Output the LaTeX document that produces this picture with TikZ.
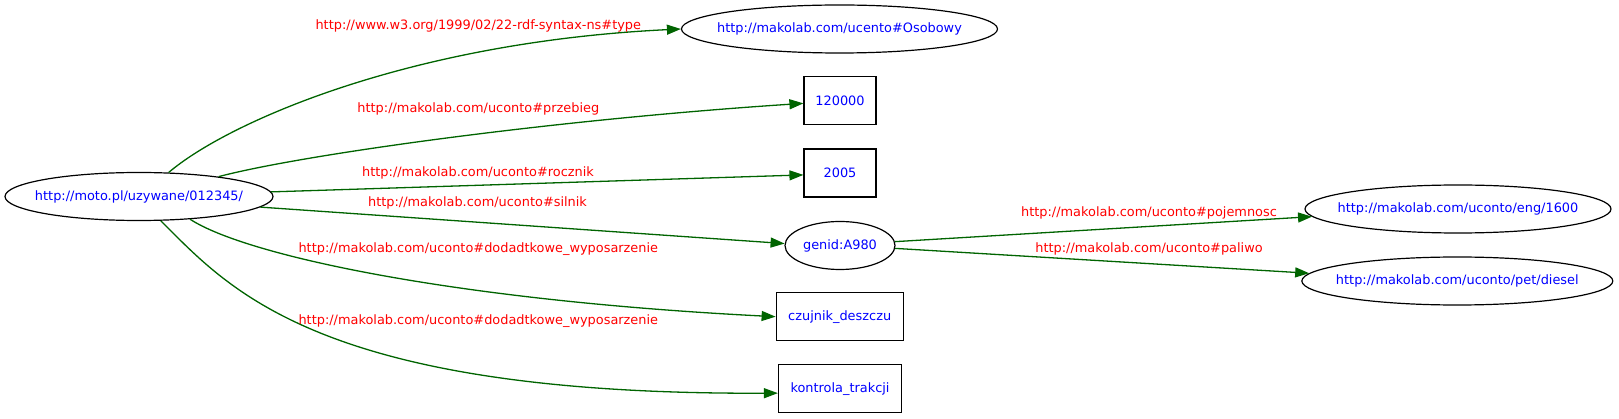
\documentclass[tikz,border=0pt]{standalone}
\usepackage{fontspec}
\setmainfont{DejaVu Sans}
\usetikzlibrary{shapes.geometric,arrows.meta}
\definecolor{edgegreen}{HTML}{006400}
\newcommand{\gvfont}{\fontsize{12.9pt}{15pt}\selectfont}

\begin{document}
\begin{tikzpicture}[x=1pt,y=-1pt,
    res/.style={draw,ellipse,line width=1.2pt,inner xsep=-30pt,inner ysep=0pt,minimum height=48pt,text=blue,font=\gvfont},
    lit/.style={draw,rectangle,line width=1.2pt,inner sep=0pt,minimum height=48pt,text=blue,font=\gvfont},
    rel/.style={draw=edgegreen,line width=1.3pt,-{Triangle[length=14pt,width=10pt]}},
    lbl/.style={text=red,font=\gvfont}]
        \useasboundingbox (0,0) rectangle (1619,419);
        % subject
        \node[res,minimum width=268pt] (auto) at (139,196.5) {http://moto.pl/uzywane/012345/};
        % objects
        \node[res,minimum width=316pt] (osobowy) at (839.5,29) {http://makolab.com/ucento\#Osobowy};
        \node[lit,minimum width=72pt] (przebieg) at (840,100.8) {120000};
        \node[lit,minimum width=72pt] (rocznik) at (840,173) {2005};
        \node[res,minimum width=110pt] (silnik) at (840,245.5) {genid:A980};
        \node[lit,minimum width=127pt] (czujnik) at (839.7,316.7) {czujnik\_deszczu};
        \node[lit,minimum width=123pt] (kontrola) at (840,388.8) {kontrola\_trakcji};
        \node[res,minimum width=306pt] (pojemnosc) at (1458,209) {http://makolab.com/uconto/eng/1600};
        \node[res,minimum width=311pt] (paliwo) at (1457.3,281) {http://makolab.com/uconto/pet/diesel};
        % predicates
        \draw[rel] (auto.39) .. controls (228,122) and (410,42) .. (osobowy.west);
        \draw[rel] (auto.14) .. controls (300,155) and (550,120) .. (przebieg.184);
        \draw[rel] (auto.2) -- (rocznik.183);
        \draw[rel] (auto.-5) -- (silnik.178);
        \draw[rel] (auto.-24) .. controls (245,255) and (450,300) .. (czujnik.west);
        \draw[rel] (auto.-48) .. controls (230,290) and (320,395) .. (kontrola.184);
        \draw[rel] (silnik.4) -- (pojemnosc.183);
        \draw[rel] (silnik.-3) -- (paliwo.177);
        % predicate labels
        \node[lbl] (l-type) at (478.3,25.5) {http://www.w3.org/1999/02/22-rdf-syntax-ns\#type};
        \node[lbl] (l-przebieg) at (478.3,108.8) {http://makolab.com/uconto\#przebieg};
        \node[lbl] (l-rocznik) at (478,172.5) {http://makolab.com/uconto\#rocznik};
        \node[lbl] (l-silnik) at (477.5,203.2) {http://makolab.com/uconto\#silnik};
        \node[lbl] (l-czujnik) at (478.3,248.8) {http://makolab.com/uconto\#dodadtkowe\_wyposarzenie};
        \node[lbl] (l-kontrola) at (478.3,320.8) {http://makolab.com/uconto\#dodadtkowe\_wyposarzenie};
        \node[lbl] (l-pojemnosc) at (1149,213.2) {http://makolab.com/uconto\#pojemnosc};
        \node[lbl] (l-paliwo) at (1149,248.8) {http://makolab.com/uconto\#paliwo};
    \end{tikzpicture}
\end{document}
